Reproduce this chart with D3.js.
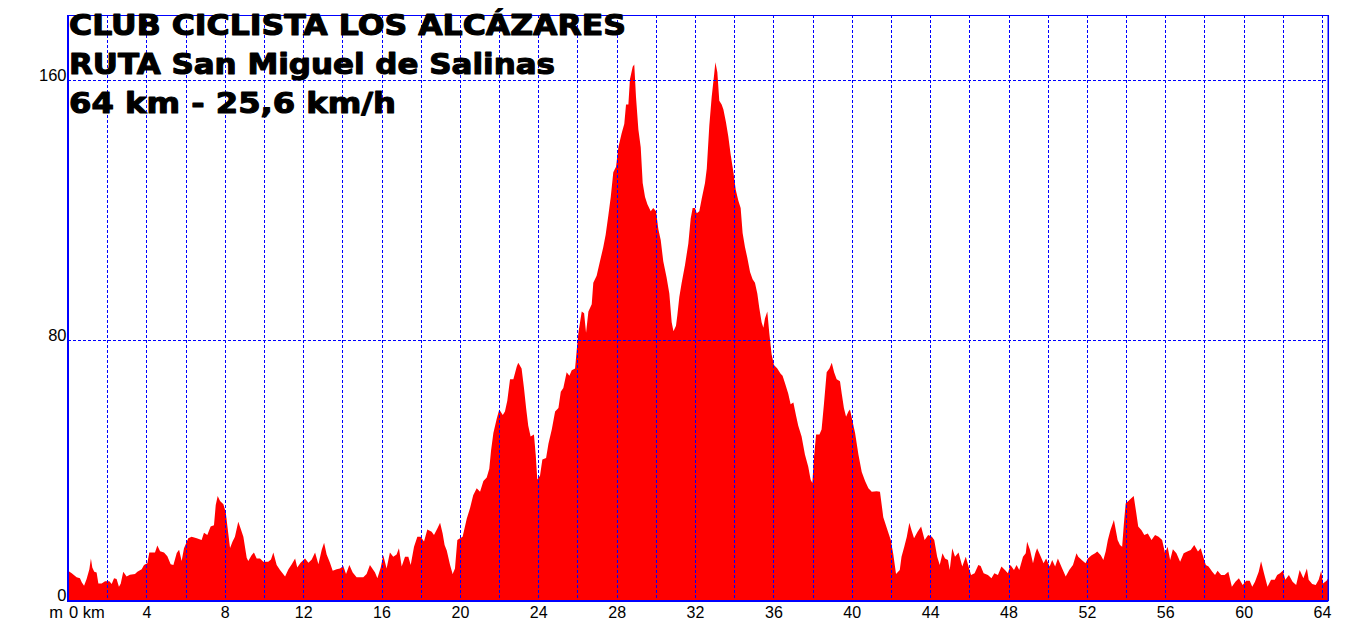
<!DOCTYPE html>
<html><head><meta charset="utf-8">
<script src="https://cdn.jsdelivr.net/npm/d3@7"></script>
<style>body{margin:0;background:#fff}svg{display:block}</style>
</head><body>
<svg id="chart" width="1362" height="632"></svg>
<script>
// ---------------- DATA ----------------
const titleLines = [
  "CLUB CICLISTA LOS ALCÁZARES",
  "RUTA San Miguel de Salinas",
  "64 km - 25,6 km/h"
];
const xTickValues = [4, 8, 12, 16, 20, 24, 28, 32, 36, 40, 44, 48, 52, 56, 60, 64];
const xGridValues = [2, 4, 6, 8, 10, 12, 14, 16, 18, 20, 22, 24, 26, 28, 30, 32, 34, 36, 38, 40, 42, 44, 46, 48, 50, 52, 54, 56, 58, 60, 62, 64];
const yTickValues = [0, 80, 160];
const yGridValues = [80, 160];

const distanceKm = [
  0, 0.19, 0.44, 0.61, 0.70, 0.82, 0.95, 1.09, 1.17, 1.24,
  1.34, 1.46, 1.55, 1.72, 1.89, 2.11, 2.23, 2.35, 2.48, 2.60,
  2.69, 2.82, 2.99, 3.16, 3.42, 3.54, 3.76, 3.88, 4.05, 4.15,
  4.44, 4.56, 4.70, 4.90, 5.07, 5.24, 5.38, 5.55, 5.67, 5.80,
  5.92, 6.14, 6.31, 6.57, 6.82, 6.94, 7.11, 7.28, 7.45, 7.54,
  7.64, 7.76, 7.93, 8.05, 8.13, 8.27, 8.40, 8.52, 8.69, 8.81,
  8.95, 9.12, 9.20, 9.37, 9.49, 9.63, 9.80, 9.97, 10.22, 10.36,
  10.48, 10.65, 10.82, 11.08, 11.25, 11.42, 11.59, 11.70, 11.87, 12.10,
  12.27, 12.44, 12.61, 12.78, 12.95, 13.07, 13.20, 13.37, 13.51, 13.71,
  13.88, 14.05, 14.19, 14.36, 14.53, 14.73, 15.07, 15.24, 15.41, 15.67,
  15.79, 15.96, 16.09, 16.26, 16.43, 16.60, 16.77, 16.89, 17.03, 17.20,
  17.37, 17.49, 17.66, 17.83, 18.00, 18.17, 18.34, 18.56, 18.68, 18.85,
  18.99, 19.12, 19.22, 19.33, 19.50, 19.63, 19.75, 19.87, 20.01, 20.14,
  20.35, 20.52, 20.68, 20.86, 21.03, 21.20, 21.37, 21.50, 21.59, 21.71,
  21.88, 22.01, 22.19, 22.30, 22.42, 22.56, 22.73, 22.90, 22.98, 23.15,
  23.27, 23.38, 23.49, 23.61, 23.78, 23.87, 23.95, 24.09, 24.21, 24.40,
  24.52, 24.69, 24.86, 25.03, 25.15, 25.28, 25.45, 25.59, 25.71, 25.88,
  25.96, 26.05, 26.22, 26.34, 26.44, 26.56, 26.73, 26.81, 26.98, 27.15,
  27.32, 27.44, 27.58, 27.70, 27.83, 27.97, 28.09, 28.26, 28.39, 28.48,
  28.60, 28.68, 28.82, 28.90, 28.99, 29.11, 29.23, 29.33, 29.45, 29.57,
  29.74, 29.87, 30.01, 30.13, 30.25, 30.38, 30.55, 30.69, 30.81, 30.90,
  31.03, 31.10, 31.20, 31.32, 31.49, 31.66, 31.78, 31.88, 32.00, 32.09,
  32.22, 32.34, 32.51, 32.60, 32.73, 32.85, 32.97, 33.04, 33.14, 33.24,
  33.36, 33.45, 33.58, 33.70, 33.82, 33.96, 34.08, 34.21, 34.33, 34.43,
  34.55, 34.67, 34.81, 34.94, 35.06, 35.18, 35.28, 35.40, 35.49, 35.57,
  35.69, 35.79, 35.91, 36.03, 36.20, 36.37, 36.47, 36.59, 36.76, 36.88,
  37.02, 37.15, 37.27, 37.44, 37.61, 37.78, 37.90, 37.99, 38.07, 38.18,
  38.35, 38.46, 38.58, 38.72, 38.86, 38.98, 39.10, 39.23, 39.40, 39.49,
  39.60, 39.71, 39.83, 39.91, 40.05, 40.17, 40.34, 40.51, 40.68, 40.85,
  41.02, 41.27, 41.44, 41.61, 41.78, 41.99, 42.12, 42.26, 42.45, 42.54,
  42.68, 42.81, 42.94, 43.05, 43.18, 43.36, 43.54, 43.72, 43.90, 44.09,
  44.21, 44.36, 44.49, 44.63, 44.76, 44.91, 45.00, 45.13, 45.27, 45.45,
  45.64, 45.82, 45.96, 46.09, 46.27, 46.46, 46.58, 46.73, 46.95, 47.13,
  47.28, 47.46, 47.64, 47.82, 47.97, 48.10, 48.28, 48.41, 48.55, 48.74,
  48.88, 48.95, 49.10, 49.25, 49.37, 49.46, 49.65, 49.79, 49.92, 50.10,
  50.23, 50.38, 50.52, 50.74, 50.92, 51.10, 51.29, 51.47, 51.56, 51.74,
  51.93, 52.05, 52.24, 52.42, 52.53, 52.71, 52.84, 52.96, 53.07, 53.20,
  53.38, 53.57, 53.69, 53.80, 53.89, 53.98, 54.17, 54.39, 54.51, 54.62,
  54.79, 54.93, 55.11, 55.30, 55.48, 55.66, 55.84, 55.99, 56.12, 56.25,
  56.39, 56.57, 56.76, 56.94, 57.12, 57.30, 57.48, 57.67, 57.81, 57.94,
  58.07, 58.21, 58.40, 58.54, 58.67, 58.85, 59.03, 59.22, 59.40, 59.58,
  59.76, 59.95, 60.13, 60.31, 60.44, 60.58, 60.77, 60.89, 61.04, 61.22,
  61.40, 61.59, 61.71, 61.86, 62.00, 62.13, 62.31, 62.50, 62.68, 62.86,
  63.05, 63.23, 63.32, 63.50, 63.68, 63.83, 63.96, 64.05, 64.23, 64.32
];
const elevationM = [
  9.0, 8.2, 7.0, 6.7, 5.5, 4.4, 6.5, 9.5, 12.8, 10.0,
  8.7, 8.5, 5.1, 5.1, 5.8, 5.8, 4.9, 6.7, 6.5, 4.1,
  5.0, 8.7, 7.2, 7.8, 8.0, 8.7, 9.5, 10.8, 11.3, 14.6,
  14.6, 16.8, 15.0, 14.6, 13.5, 11.0, 10.8, 14.5, 15.5, 12.0,
  15.9, 19.0, 19.5, 19.0, 18.5, 20.7, 20.0, 22.6, 23.0, 29.2,
  32.0, 30.5, 29.5, 27.0, 23.0, 16.0, 18.0, 19.5, 24.1, 22.0,
  19.5, 13.0, 12.0, 13.8, 14.6, 12.8, 12.8, 11.8, 11.8, 12.5,
  14.6, 10.8, 9.2, 7.2, 9.5, 11.0, 12.8, 10.0, 11.5, 12.8,
  11.5, 12.5, 14.6, 11.0, 15.5, 17.6, 14.0, 11.5, 9.0, 9.5,
  9.7, 10.5, 8.0, 10.8, 8.5, 7.0, 7.0, 8.0, 10.8, 8.5,
  6.7, 10.0, 13.8, 9.7, 14.6, 13.3, 14.0, 15.9, 10.3, 13.3,
  13.3, 10.8, 16.4, 19.5, 19.5, 18.0, 21.7, 21.0, 20.0, 22.0,
  23.8, 20.5, 16.9, 15.2, 10.8, 8.0, 9.7, 18.5, 19.0, 19.5,
  25.0, 28.3, 32.2, 34.4, 33.3, 36.6, 37.7, 40.4, 45.9, 51.4,
  55.8, 58.6, 56.9, 58.0, 61.3, 67.9, 67.9, 71.8, 73.0, 71.2,
  65.3, 59.1, 53.6, 50.3, 50.9, 44.8, 37.1, 38.2, 43.2, 43.7,
  48.1, 52.5, 58.0, 59.1, 64.1, 65.2, 70.1, 69.0, 70.7, 71.2,
  76.7, 82.2, 88.8, 88.2, 82.2, 88.8, 91.0, 97.6, 99.8, 104.2,
  108.6, 112.4, 118.5, 124.0, 131.6, 133.3, 139.3, 143.7, 146.5, 152.5,
  152.5, 160.2, 164.1, 164.8, 154.7, 144.8, 139.3, 128.3, 124.0, 121.8,
  119.6, 120.6, 119.6, 114.1, 110.8, 104.2, 99.2, 94.3, 85.5, 82.7,
  84.4, 87.7, 93.2, 97.6, 103.1, 109.7, 117.4, 120.6, 120.6, 119.0,
  119.6, 123.4, 128.3, 132.7, 145.9, 154.7, 161.3, 165.5, 162.4, 153.6,
  152.5, 150.9, 147.0, 142.6, 137.1, 131.6, 126.2, 122.9, 120.6, 112.9,
  108.6, 105.3, 100.9, 98.7, 97.6, 94.3, 89.9, 85.5, 83.8, 86.6,
  88.8, 82.2, 75.6, 72.3, 71.2, 69.6, 69.0, 66.8, 63.5, 60.2,
  60.8, 56.9, 53.6, 50.3, 44.8, 41.0, 37.1, 36.0, 43.7, 50.9,
  50.9, 52.5, 60.2, 70.1, 71.2, 73.0, 70.1, 67.9, 67.3, 63.5,
  59.1, 56.4, 58.0, 58.6, 54.7, 51.4, 44.8, 39.4, 36.6, 34.4,
  33.3, 33.5, 33.3, 25.5, 22.3, 18.5, 14.1, 8.0, 9.2, 13.3,
  16.4, 19.5, 23.8, 21.5, 19.0, 21.0, 22.6, 18.5, 20.0, 19.5,
  18.5, 13.3, 10.8, 14.4, 12.8, 12.3, 9.2, 15.9, 13.3, 14.6,
  10.3, 13.3, 10.3, 7.7, 8.2, 10.8, 10.5, 8.2, 7.7, 6.7,
  8.2, 7.7, 10.3, 9.2, 8.2, 10.8, 9.2, 10.8, 9.2, 13.3,
  14.4, 17.9, 15.4, 11.3, 14.4, 15.9, 13.3, 11.3, 12.8, 10.3,
  12.3, 10.3, 12.8, 9.7, 7.2, 9.2, 10.8, 14.4, 13.3, 12.3,
  11.3, 12.8, 13.8, 14.4, 14.9, 13.8, 12.3, 14.9, 18.5, 21.5,
  24.6, 18.5, 16.9, 16.4, 23.6, 29.7, 30.8, 32.0, 27.2, 22.6,
  21.5, 20.0, 20.5, 18.5, 20.0, 19.5, 18.5, 14.4, 16.4, 12.3,
  15.6, 14.4, 11.8, 14.4, 14.9, 15.4, 16.9, 14.9, 15.9, 13.3,
  10.8, 10.3, 8.7, 7.7, 9.0, 7.7, 7.7, 8.7, 4.1, 5.6,
  6.7, 4.6, 5.9, 5.9, 4.1, 5.6, 8.7, 11.9, 8.2, 4.1,
  6.2, 6.2, 7.7, 8.2, 9.0, 6.2, 7.7, 5.6, 4.6, 9.2,
  6.7, 9.7, 6.2, 4.9, 4.6, 6.2, 9.0, 5.1, 5.9, 6.7
];

// ---------------- CHART ----------------
const svg = d3.select("#chart");
svg.append("rect").attr("width", 1362).attr("height", 632).attr("fill", "#fff");

const x = d3.scaleLinear().domain([0, 64]).range([68, 1322]);
const y = d3.scaleLinear().domain([0, 180]).range([600, 15]);
const xEnd = distanceKm[distanceKm.length - 1];
const blue = "#0000ff";

const profile = distanceKm.map((d, i) => ({ km: d, m: elevationM[i] }));

// area
const area = d3.area()
  .x(d => x(d.km))
  .y0(y(0))
  .y1(d => y(d.m))
  .curve(d3.curveLinear);
svg.append("path")
  .datum(profile)
  .attr("d", area)
  .attr("fill", "#ff0000");

// grid
const grid = svg.append("g").attr("stroke", blue).attr("stroke-width", 1)
  .attr("stroke-dasharray", "3,2").attr("fill", "none");
grid.selectAll("line.v").data(xGridValues).join("line")
  .attr("class", "v")
  .attr("x1", d => Math.round(x(d)) + 0.5).attr("x2", d => Math.round(x(d)) + 0.5)
  .attr("y1", y(180)).attr("y2", y(0));
grid.selectAll("line.h").data(yGridValues).join("line")
  .attr("class", "h")
  .attr("x1", x(0)).attr("x2", x(xEnd))
  .attr("y1", d => Math.round(y(d)) + 0.5).attr("y2", d => Math.round(y(d)) + 0.5);

// frame
const frame = svg.append("g").attr("stroke", blue).attr("fill", "none");
frame.append("line").attr("x1", x(0)).attr("x2", x(xEnd)).attr("y1", y(180) + 0.5).attr("y2", y(180) + 0.5).attr("stroke-width", 1);
frame.append("line").attr("x1", x(xEnd)).attr("x2", x(xEnd)).attr("y1", y(180)).attr("y2", y(0) + 1).attr("stroke-width", 1.5);
frame.append("line").attr("x1", x(0)).attr("x2", x(0)).attr("y1", y(180)).attr("y2", y(0) + 2).attr("stroke-width", 2);
frame.append("line").attr("x1", x(0)).attr("x2", x(xEnd)).attr("y1", y(0) + 1).attr("y2", y(0) + 1).attr("stroke-width", 2);

// axes
const labelFont = "'Liberation Sans', Arial, sans-serif";
const xAxis = d3.axisBottom(x).tickValues(xTickValues).tickSize(0).tickPadding(0).tickFormat(d3.format("d"));
const gx = svg.append("g").attr("transform", `translate(0,${y(0)})`).call(xAxis);
gx.select(".domain").remove();
gx.attr("font-family", labelFont).attr("font-size", 16);
gx.selectAll("text").attr("y", 17.5).attr("dy", 0).attr("fill", "#000");

const yAxis = d3.axisLeft(y).tickValues(yTickValues).tickSize(0).tickPadding(1.5).tickFormat(d3.format("d"));
const gy = svg.append("g").attr("transform", `translate(${x(0)},0)`).call(yAxis);
gy.select(".domain").remove();
gy.attr("font-family", labelFont).attr("font-size", 16.5);
gy.selectAll("text").attr("dy", 0).attr("y", 0).attr("fill", "#000");

svg.append("text").attr("x", x(0) - 5).attr("y", y(0) + 17.5)
  .attr("text-anchor", "end").attr("font-family", labelFont).attr("font-size", 16.5).text("m");
svg.append("text").attr("x", x(0) + 1).attr("y", y(0) + 17.5)
  .attr("text-anchor", "start").attr("font-family", labelFont).attr("font-size", 16.5).text("0 km");

// title
const titleBaselines = [35, 74, 113];
const titleWidths = [558, 487, 328];
svg.append("g").selectAll("text").data(titleLines).join("text")
  .attr("x", 69)
  .attr("y", (d, i) => titleBaselines[i])
  .attr("font-family", "'DejaVu Sans', Verdana, sans-serif")
  .attr("font-weight", "bold")
  .attr("font-size", 28)
  .attr("fill", "#000")
  .attr("stroke", "#000")
  .attr("stroke-width", 1.1)
  .attr("stroke-linejoin", "round")
  .attr("textLength", (d, i) => titleWidths[i] - 1)
  .attr("lengthAdjust", "spacingAndGlyphs")
  .text(d => d);
</script>
</body></html>
